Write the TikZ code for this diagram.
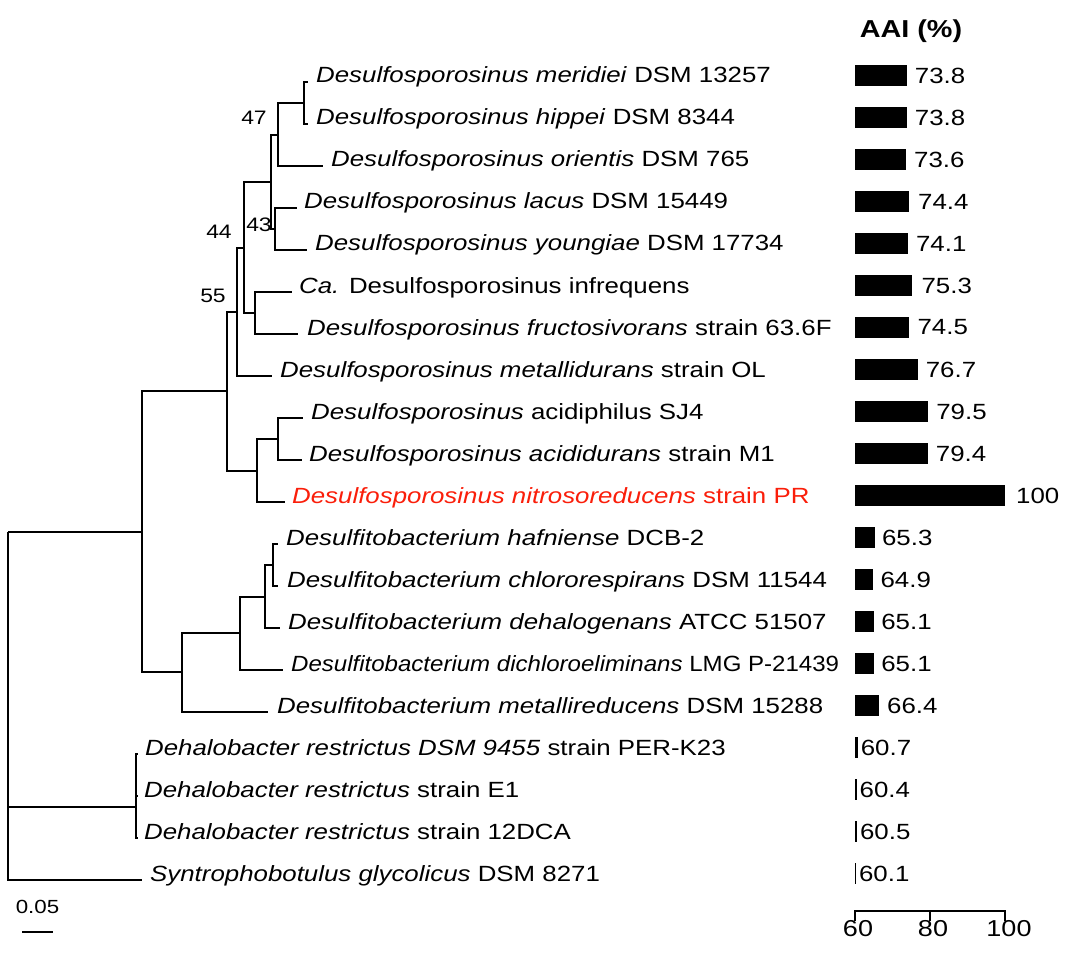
\documentclass[tikz,border=0pt]{standalone}
\usepackage{fontspec}
\setmainfont{Liberation Sans}[FakeStretch=1.175]
\definecolor{mred}{RGB}{250,30,10}
\begin{document}
\begin{tikzpicture}[x=1pt,y=-1pt,
  br/.style={line width=2pt, line join=miter},
  lab/.style={anchor=base west, inner sep=0pt, font=\fontsize{22}{26}\selectfont},
  boot/.style={inner sep=0pt, font=\fontsize{19.5}{23}\selectfont},
  val/.style={anchor=west, inner sep=0pt, font=\fontsize{22}{26}\selectfont},
  axl/.style={inner sep=0pt, font=\fontsize{23}{27}\selectfont},
  bar/.style={fill=black}]
\useasboundingbox (0,0) rectangle (1080,963);
% internal nodes
\coordinate (root) at (8,532);
\coordinate (A) at (142,532);
\coordinate (B) at (227,391);
\coordinate (C) at (237,312);
\coordinate (D) at (244,248);
\coordinate (E) at (271,182);
\coordinate (F) at (278,135);
\coordinate (H) at (304,103);
\coordinate (G) at (275,229);
\coordinate (I) at (255,313);
\coordinate (K) at (257,471);
\coordinate (J) at (278,439);
\coordinate (L) at (182,672);
\coordinate (M) at (240,633);
\coordinate (N) at (265,597);
\coordinate (O) at (273,565);
\coordinate (P) at (136,807);
% leaf ends
\coordinate (l1) at (308,82);
\coordinate (l2) at (308,124);
\coordinate (l3) at (323,166);
\coordinate (l4) at (297,208);
\coordinate (l5) at (307,250);
\coordinate (l6) at (292,292);
\coordinate (l7) at (298,334);
\coordinate (l8) at (272,376);
\coordinate (l9) at (303,418);
\coordinate (l10) at (302,460);
\coordinate (l11) at (285,502);
\coordinate (l12) at (278,544);
\coordinate (l13) at (278,586);
\coordinate (l14) at (280,628);
\coordinate (l15) at (283,670);
\coordinate (l16) at (268,712);
\coordinate (l17) at (138,754);
\coordinate (l18) at (138,796);
\coordinate (l19) at (138,838);
\coordinate (l20) at (142,880);
% branches
\draw[br] (root) |- (A);
\draw[br] (root) |- (P);
\draw[br] (root) |- (l20);
\draw[br] (A) |- (B);
\draw[br] (A) |- (L);
\draw[br] (B) |- (C);
\draw[br] (B) |- (K);
\draw[br] (C) |- (D);
\draw[br] (C) |- (l8);
\draw[br] (D) |- (E);
\draw[br] (D) |- (I);
\draw[br] (E) |- (F);
\draw[br] (E) |- (G);
\draw[br] (F) |- (H);
\draw[br] (F) |- (l3);
\draw[br] (H) |- (l1);
\draw[br] (H) |- (l2);
\draw[br] (G) |- (l4);
\draw[br] (G) |- (l5);
\draw[br] (I) |- (l6);
\draw[br] (I) |- (l7);
\draw[br] (K) |- (J);
\draw[br] (K) |- (l11);
\draw[br] (J) |- (l9);
\draw[br] (J) |- (l10);
\draw[br] (L) |- (M);
\draw[br] (L) |- (l16);
\draw[br] (M) |- (N);
\draw[br] (M) |- (l15);
\draw[br] (N) |- (O);
\draw[br] (N) |- (l14);
\draw[br] (O) |- (l12);
\draw[br] (O) |- (l13);
\draw[br] (P) |- (l17);
\draw[br] (P) |- (l18);
\draw[br] (P) |- (l19);
% bootstrap values
\node[boot] (b47) at (254,118) {47};
\node[boot] (b43) at (259,225) {43};
\node[boot] (b44) at (219,232) {44};
\node[boot] (b55) at (213,296) {55};
% leaf labels
\node[lab] (t1) at (316,83) {\textit{Desulfosporosinus meridiei} DSM 13257};
\node[lab] (t2) at (316,125) {\textit{Desulfosporosinus hippei} DSM 8344};
\node[lab] (t3) at (331,167) {\textit{Desulfosporosinus orientis} DSM 765};
\node[lab] (t4) at (304,209) {\textit{Desulfosporosinus lacus} DSM 15449};
\node[lab] (t5) at (315,251) {\textit{Desulfosporosinus youngiae} DSM 17734};
\node[lab] (t6) at (299,293) {\textit{Ca.} Desulfosporosinus infrequens};
\node[lab] (t7) at (307,335) {\textit{Desulfosporosinus fructosivorans} strain 63.6F};
\node[lab] (t8) at (280,377) {\textit{Desulfosporosinus metallidurans} strain OL};
\node[lab] (t9) at (311,419) {\textit{Desulfosporosinus} acidiphilus SJ4};
\node[lab] (t10) at (309,461) {\textit{Desulfosporosinus acididurans} strain M1};
\node[lab, text=mred] (t11) at (292,503) {\textit{Desulfosporosinus nitrosoreducens} strain PR};
\node[lab] (t12) at (286,545) {\textit{Desulfitobacterium hafniense} DCB-2};
\node[lab] (t13) at (287,587) {\textit{Desulfitobacterium chlororespirans} DSM 11544};
\node[lab] (t14) at (288,629) {\textit{Desulfitobacterium dehalogenans} ATCC 51507};
\node[lab] (t15) at (291,671) {\scalebox{0.93}[1]{\textit{Desulfitobacterium dichloroeliminans} LMG P-21439}};
\node[lab] (t16) at (277,713) {\textit{Desulfitobacterium metallireducens} DSM 15288};
\node[lab] (t17) at (145,755) {\textit{Dehalobacter restrictus DSM 9455} strain PER-K23};
\node[lab] (t18) at (144,797) {\textit{Dehalobacter restrictus} strain E1};
\node[lab] (t19) at (144,839) {\textit{Dehalobacter restrictus} strain 12DCA};
\node[lab] (t20) at (150,881) {\textit{Syntrophobotulus glycolicus} DSM 8271};
% AAI bars
\node[inner sep=0pt, font=\fontsize{24.5}{28}\selectfont\bfseries] (aai) at (911,31) {AAI (\%)};
\foreach \v/\y/\g [count=\i] in {73.8/82/8, 73.8/124/8, 73.6/166/8, 74.4/208/9, 74.1/250/8, 75.3/292/9, 74.5/334/8, 76.7/376/8, 79.5/418/8, 79.4/460/8, 100/502/11, 65.3/544/7, 64.9/586/7, 65.1/628/7, 65.1/670/7, 66.4/712/8, 60.7/754/3, 60.4/796/3, 60.5/838/3, 60.1/880/3}{
  \pgfmathsetmacro{\w}{max((\v-60)*3.75,0.9)}
  \fill[bar] (855,\y-17) rectangle ++(\w,21);
  \node[val] (v\i) at (855+\w+\g,\y-6.5) {\v};
}
% axis
\coordinate (ax60) at (855,911);
\coordinate (ax80) at (930,911);
\coordinate (ax100) at (1005,911);
\draw[br, line width=1.6pt] ([yshift=-10]ax60) -- (ax60) -- (ax100) -- ([yshift=-10]ax100);
\draw[br, line width=1.6pt] (ax80) -- ([yshift=-10]ax80);
\node[axl] (n60) at (858,929) {60};
\node[axl] (n80) at (933,929) {80};
\node[axl] (n100) at (1009,929) {100};
% scale bar
\coordinate (sb1) at (22,932);
\coordinate (sb2) at (53,932);
\draw[br] (sb1) -- (sb2);
\node[boot, font=\fontsize{19}{23}\selectfont] (sbl) at (37.5,907) {0.05};
\end{tikzpicture}
\end{document}
